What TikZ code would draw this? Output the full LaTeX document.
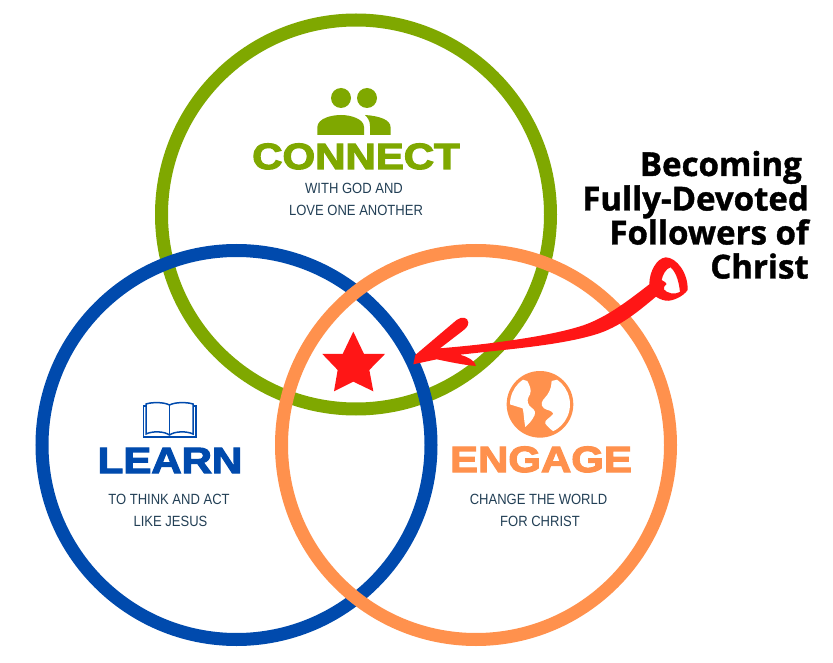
\documentclass[tikz,border=0pt]{standalone}
\usepackage{fontspec}
\setmainfont{Liberation Sans}
\newfontfamily\headfont[FakeStretch=1.15,FakeBold=3.2]{Liberation Sans Bold}
\newfontfamily\subfont[FakeStretch=0.88]{Liberation Sans}
\newfontfamily\calloutfont[FakeBold=1.2]{Open Sans Bold}
\definecolor{cgreen}{HTML}{7FA800}
\definecolor{cblue}{HTML}{004AAD}
\definecolor{corange}{HTML}{FF914D}
\definecolor{cred}{HTML}{FF1616}
\definecolor{cslate}{HTML}{223F55}
\tikzset{
  ringline/.style={draw=#1,line width=13pt,fill=none},
  headtext/.style={anchor=base,inner sep=0pt,text=#1,font=\headfont\fontsize{36.5}{36.5}\selectfont},
  subtext/.style={anchor=base,inner sep=0pt,text=cslate,font=\subfont\fontsize{14.8}{14.8}\selectfont},
  callout/.style={anchor=base east,inner sep=0pt,text=black,font=\calloutfont\fontsize{33}{33}\selectfont},
}
\begin{document}
\begin{tikzpicture}[x=1pt,y=-1pt]
\useasboundingbox (0,0) rectangle (833,663);
\fill[white] (0,0) rectangle (833,663);
% rings
\draw[ringline=cgreen] (356,214.5) circle[radius=194.5];
\draw[ringline=cblue] (236.5,445) circle[radius=194.5];
\draw[ringline=corange] (476,445) circle[radius=194.5];
% people icon
\fill[cgreen] (341,98) circle[radius=10] (367,98) circle[radius=10];
\fill[cgreen] (317.3,135) -- (317.3,127) .. controls (318,118) and (332,115) .. (341,115) .. controls (351,115) and (364,119) .. (364,127) -- (364,135) -- cycle;
\fill[cgreen] (365,115) .. controls (380,116) and (390.5,120) .. (390.5,127) -- (390.5,135) -- (370,135) -- (370,126) .. controls (370,121) and (368,118) .. (365,115) -- cycle;
% book icon
\begin{scope}[draw=cblue,line width=1.5pt,line join=miter]
\draw (146,404) .. controls (152,402) and (164,402) .. (169.5,405) .. controls (175,402) and (187,402) .. (193,404) -- (193,434) .. controls (187,431) and (175,431) .. (169.5,435) .. controls (164,431) and (152,431) .. (146,434) -- cycle;
\draw (169.5,405) -- (169.5,435);
\draw (146,406) -- (143.5,406) -- (143.5,437) -- (195.8,437) -- (195.8,406) -- (193,406);
\end{scope}
% globe icon
\begin{scope}[shift={(440,365)},x=0.3333pt,y=-0.3333pt]
\fill[corange] (300,118) circle[radius=100];
\begin{scope}
\clip (300,118) circle[radius=90];
\fill[white] (262,48) .. controls (268,60) and (276,75) .. (270,88) .. controls (262,100) and (260,110) .. (268,122) .. controls (275,130) and (290,135) .. (284,150) .. controls (278,165) and (265,178) .. (256,186) .. controls (252,170) and (252,145) .. (248,130) -- (200,115) -- (200,30) -- cycle;
\fill[white] (335,48) .. controls (335,70) and (325,88) .. (315,98) .. controls (305,108) and (300,120) .. (312,130) .. controls (322,137) and (335,135) .. (340,146) .. controls (330,160) and (312,165) .. (316,176) .. controls (325,188) and (335,195) .. (345,203) -- (410,200) -- (410,30) -- cycle;
\end{scope}
\end{scope}
% headings
\node[headtext=cgreen] (connect) at (356,169) {CONNECT};
\node[headtext=cblue] (learn) at (170,473) {LEARN};
\node[headtext=corange] (engage) at (541,472) {ENGAGE};
% subtexts
\node[subtext] (c1) at (354,194) {WITH GOD AND};
\node[subtext] (c2) at (356,216) {LOVE ONE ANOTHER};
\node[subtext] (l1) at (169,504.5) {TO THINK AND ACT};
\node[subtext] (l2) at (170.5,526) {LIKE JESUS};
\node[subtext] (e1) at (538.5,504.5) {CHANGE THE WORLD};
\node[subtext] (e2) at (540,526) {FOR CHRIST};
% callout
\node[callout] (b1) at (802,176) {Becoming};
\node[callout] (b2) at (809,210.5) {Fully-Devoted};
\node[callout] (b3) at (809,244.5) {Followers of};
\node[callout] (b4) at (809,278.5) {Christ};
% star
\begin{scope}[shift={(300,230)},x=0.3333pt,y=-0.3333pt]
\fill[cred] (160,305) -- (192,372) -- (255,372) -- (208,420) -- (220,484) -- (160,455) -- (102,484) -- (113,420) -- (67,372) -- (128,372) -- cycle;
% hand-drawn arrow
\fill[cred,even odd rule] (340,403) -- (346,375) -- (470,270) .. controls (485,258) and (505,262) .. (505,278) .. controls (505,290) and (495,297) .. (485,305) -- (420,355) .. controls (480,350) and (560,342) .. (620,333) .. controls (700,322) and (790,306) .. (850,286) .. controls (920,262) and (985,212) .. (1048,163) .. controls (1048,125) and (1070,85) .. (1097,82) .. controls (1130,82) and (1165,130) .. (1163,180) .. controls (1150,200) and (1115,215) .. (1098,212) .. controls (1085,210) and (1075,205) .. (1068,200) .. controls (1020,240) and (960,292) .. (885,314) .. controls (805,338) and (700,350) .. (620,359) .. controls (570,364) and (520,370) .. (480,374) .. controls (500,380) and (525,390) .. (528,408) .. controls (490,405) and (450,396) .. (410,388) -- cycle
(1112,112) .. controls (1098,115) and (1088,135) .. (1085,150) .. controls (1092,155) and (1100,158) .. (1100,162) .. controls (1095,168) and (1088,172) .. (1092,178) .. controls (1100,190) and (1125,195) .. (1140,186) .. controls (1138,165) and (1132,130) .. (1112,112) -- cycle;
\end{scope}
\end{tikzpicture}
\end{document}
